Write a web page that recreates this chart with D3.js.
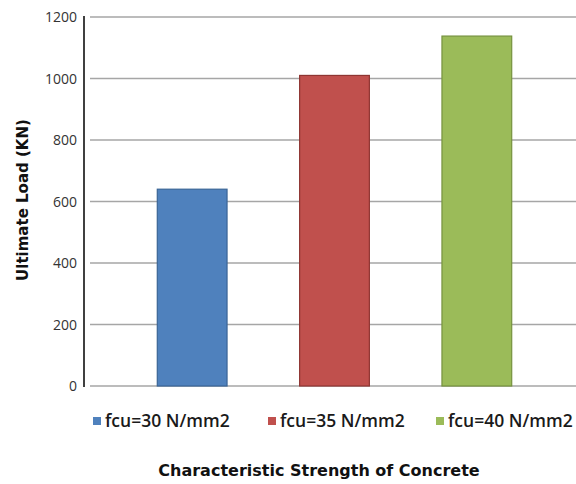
<!DOCTYPE html>
<html>
<head>
<meta charset="utf-8">
<script src="https://cdn.jsdelivr.net/npm/d3@7"></script>
<style>
  html, body { margin: 0; padding: 0; background: #fff; }
  svg { display: block; }
</style>
</head>
<body>
<svg id="chart" width="576" height="484"></svg>
<script>
const categories = ["fcu=30 N/mm2", "fcu=35 N/mm2", "fcu=40 N/mm2"];
const values = [640, 1010, 1138];
const colors = ["#4F81BD", "#C0504D", "#9BBB59"];
const strokes = ["#3A6596", "#8E3532", "#76923F"];
const yTicks = [0, 200, 400, 600, 800, 1000, 1200];
const yTitle = "Ultimate Load (KN)";
const xTitle = "Characteristic Strength of Concrete";

const svg = d3.select("#chart");

const y = d3.scaleLinear().domain([0, 1200]).range([386, 17]);
const x = d3.scaleBand().domain(categories).range([121, 548])
  .paddingInner(0.51).paddingOuter(0.255);

// gridlines
svg.append("g").selectAll("line").data(yTicks).join("line")
  .attr("x1", 90).attr("x2", 576)
  .attr("y1", d => y(d)).attr("y2", d => y(d))
  .attr("stroke", "#a6a6a6").attr("stroke-width", 1.5);

// y axis labels
const yAxis = d3.axisLeft(y).tickValues(yTicks).tickSize(0).tickPadding(0)
  .tickFormat(d3.format("d"));
const gy = svg.append("g").attr("transform", "translate(77,0)").call(yAxis);
gy.select(".domain").remove();
gy.selectAll("text")
  .attr("font-family", "'Open Sans', sans-serif")
  .attr("font-size", 14)
  .attr("fill", "#333")
  .attr("dy", "0.35em");

// axis line
svg.append("line").attr("x1", 84).attr("x2", 84)
  .attr("y1", y(1200) - 1).attr("y2", y(0) + 1)
  .attr("stroke", "#404040").attr("stroke-width", 2);

// bars
svg.append("g").selectAll("rect").data(categories).join("rect")
  .attr("x", d => x(d))
  .attr("width", x.bandwidth())
  .attr("y", (d, i) => y(values[i]))
  .attr("height", (d, i) => y(0) - y(values[i]))
  .attr("fill", (d, i) => colors[i])
  .attr("stroke", (d, i) => strokes[i])
  .attr("stroke-width", 1.2);

// y title
svg.append("text")
  .attr("transform", "translate(28,200) rotate(-90)")
  .attr("text-anchor", "middle")
  .attr("font-family", "'DejaVu Sans', sans-serif")
  .attr("font-weight", "bold")
  .attr("font-size", 15)
  .attr("fill", "#111")
  .text(yTitle);

// legend
const legendX = [93, 268, 436];
const lg = svg.append("g").selectAll("g").data(categories).join("g")
  .attr("transform", (d, i) => `translate(${legendX[i]},421)`);
lg.append("rect").attr("x", 0).attr("y", -4).attr("width", 8).attr("height", 8)
  .attr("fill", (d, i) => colors[i]);
lg.append("text").attr("x", 12).attr("y", 0).attr("dy", "0.35em")
  .attr("font-family", "'Open Sans', sans-serif")
  .attr("font-weight", 600)
  .attr("font-size", 17.5)
  .attr("fill", "#1a1a1a")
  .text(d => d);

// x title
svg.append("text")
  .attr("x", 319).attr("y", 476)
  .attr("text-anchor", "middle")
  .attr("font-family", "'DejaVu Sans', sans-serif")
  .attr("font-weight", "bold")
  .attr("font-size", 16)
  .attr("fill", "#111")
  .text(xTitle);
</script>
</body>
</html>
